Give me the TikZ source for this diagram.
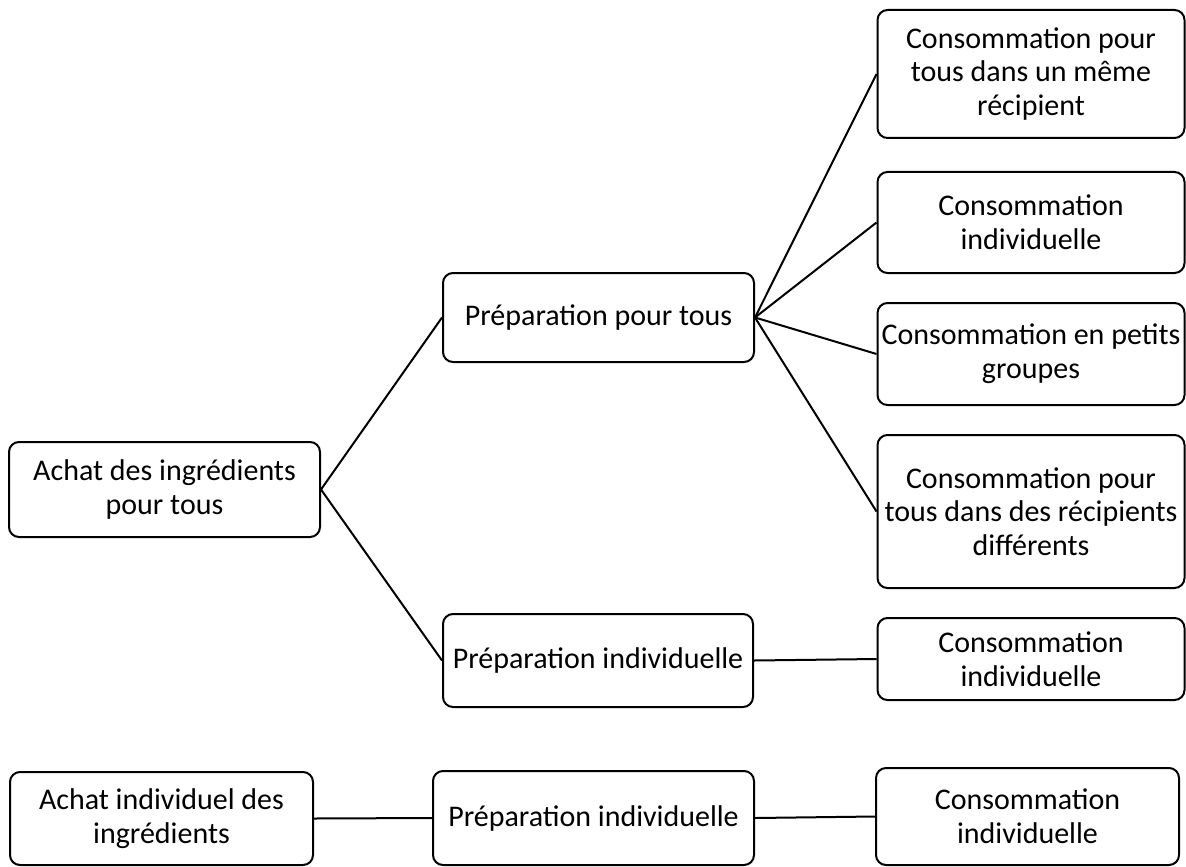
\documentclass[tikz,border=0pt]{standalone}
\usepackage{fontspec}
\setmainfont{Carlito}
\usetikzlibrary{positioning}

\begin{document}
\begin{tikzpicture}[x=0.5pt, y=-0.5pt, line width=1pt,
    font=\fontsize{15}{16.8}\selectfont,
    box/.style={draw, rounded corners=5pt, align=center, inner sep=2pt},
    link/.style={draw}]
    \useasboundingbox (0,0) rectangle (1186,866);

    % First column
    \node[box, minimum width=155.5pt, minimum height=47.5pt] (achat) at (164.5, 489.5) {Achat des ingrédients\\pour tous};
    \node[box, minimum width=151.5pt, minimum height=46.5pt] (achatInd) at (161.5, 818.5) {Achat individuel des\\ingrédients};

    % Second column
    \node[box, minimum width=155.5pt, minimum height=44.5pt] (prepTous) at (598.5, 317.5) {Préparation pour tous};
    \node[box, minimum width=155pt, minimum height=46.5pt] (prepInd) at (598, 660.5) {Préparation individuelle};
    \node[box, minimum width=160.5pt, minimum height=47pt] (prepIndB) at (593.5, 818) {Préparation individuelle};

    % Third column
    \node[box, minimum width=153.5pt, minimum height=64pt] (consMeme) at (1031, 74) {Consommation pour\\tous dans un même\\récipient};
    \node[box, minimum width=153.5pt, minimum height=50.5pt] (consInd) at (1031, 222.5) {Consommation\\individuelle};
    \node[box, minimum width=153.5pt, minimum height=51pt] (consGrp) at (1031, 354) {Consommation en petits\\groupes};
    \node[box, minimum width=153.5pt, minimum height=76.5pt] (consDiff) at (1031, 511.5) {Consommation pour\\tous dans des récipients\\différents};
    \node[box, minimum width=153.5pt, minimum height=41pt] (consIndA) at (1031, 659) {Consommation\\individuelle};
    \node[box, minimum width=151.5pt, minimum height=48.5pt] (consIndB) at (1027.5, 816.5) {Consommation\\individuelle};

    % Links
    \draw[link] (achat.east) -- (prepTous.west);
    \draw[link] (achat.east) -- (prepInd.west);
    \foreach \c in {consMeme, consInd, consGrp, consDiff} {
      \draw[link] (prepTous.east) -- (\c.west);
    }
    \draw[link] (prepInd.east) -- (consIndA.west);
    \draw[link] (achatInd.east) -- (prepIndB.west);
    \draw[link] (prepIndB.east) -- (consIndB.west);

  \end{tikzpicture}
\end{document}
